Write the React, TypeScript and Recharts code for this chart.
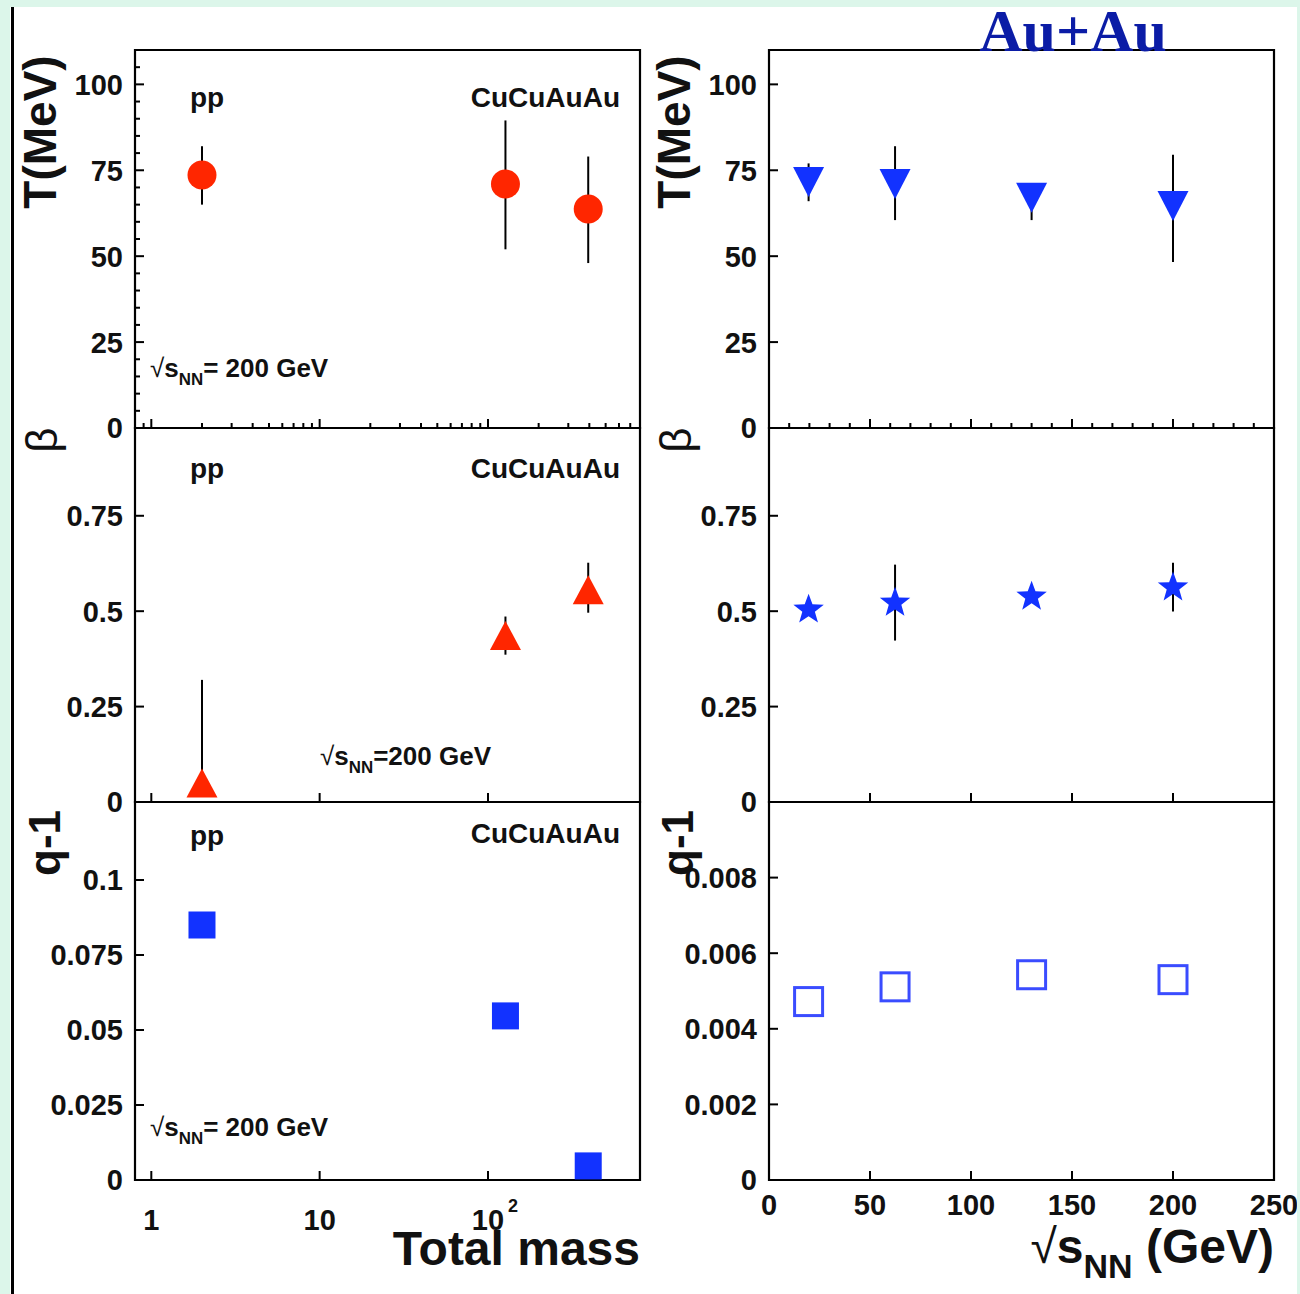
import React from 'react';
import { ScatterChart, Scatter, XAxis, YAxis, ErrorBar, ReferenceArea } from 'recharts';

// ---------- data ----------
const systems = ['pp', 'CuCu', 'AuAu'];
const totalMass = [2, 127, 394];
const tempByMass = [73.6, 71.0, 63.7];
const tempByMassLow = [65.0, 52.0, 48.0];
const tempByMassHigh = [82.0, 89.5, 79.0];
const betaByMass = [0.05, 0.436, 0.556];
const betaByMassLow = [0.05, 0.386, 0.496];
const betaByMassHigh = [0.32, 0.486, 0.627];
const qByMass = [0.085, 0.0547, 0.0047];

const energies = [19.6, 62.4, 130, 200];
const tempByEnergy = [71.6, 71.0, 67.0, 64.6];
const tempByEnergyLow = [66.0, 60.5, 60.5, 48.3];
const tempByEnergyHigh = [77.0, 82.0, 71.3, 79.5];
const betaByEnergy = [0.504, 0.522, 0.538, 0.562];
const betaByEnergyLow = [0.492, 0.423, 0.522, 0.499];
const betaByEnergyHigh = [0.516, 0.622, 0.556, 0.627];
const qByEnergy = [0.00472, 0.00511, 0.00543, 0.0053];

// ---------- ticks ----------
const massMajorTicks = [1, 10, 100];
const massMajorLabels = ['1', '10', '10|2'];
const massMinorTicks = [0.9, 2, 3, 4, 5, 6, 7, 8, 9, 20, 30, 40, 50, 60, 70, 80, 90, 200, 300, 400, 500, 600, 700];
const energyMajorTicks = [0, 50, 100, 150, 200, 250];
const energyMajorLabels = ['0', '50', '100', '150', '200', '250'];
const energyMinorTicks = [10, 20, 30, 40, 60, 70, 80, 90, 110, 120, 130, 140, 160, 170, 180, 190, 210, 220, 230, 240];
const tempMajorTicks = [0, 25, 50, 75, 100];
const tempMajorLabels = ['0', '25', '50', '75', '100'];
const tempMinorTicks = [5, 10, 15, 20, 30, 35, 40, 45, 55, 60, 65, 70, 80, 85, 90, 95, 105];
const betaMajorTicks = [0, 0.25, 0.5, 0.75];
const betaMajorLabels = ['0', '0.25', '0.5', '0.75'];
const qMassMajorTicks = [0, 0.025, 0.05, 0.075, 0.1];
const qMassMajorLabels = ['0', '0.025', '0.05', '0.075', '0.1'];
const qEnergyMajorTicks = [0, 0.002, 0.004, 0.006, 0.008];
const qEnergyMajorLabels = ['0', '0.002', '0.004', '0.006', '0.008'];

const massDomain = [0.8, 800];
const energyDomain = [0, 250];
const tempDomain = [0, 110];
const betaDomain = [0, 0.98];
const qMassDomain = [0, 0.126];
const qEnergyDomain = [0, 0.01];

// ---------- styles ----------
const RED = '#ff2600';
const BLUE = '#1232ff';
const OPEN_BLUE = '#3a4cff';
const FONT = "'Liberation Sans', Arial, Helvetica, sans-serif";

const rows = (xs: number[], ys: number[], lows?: number[], highs?: number[]) =>
  xs.map((x, i) => ({
    x,
    y: ys[i],
    err: lows && highs ? [ys[i] - lows[i], highs[i] - ys[i]] : [0, 0],
  }));

const near = (a: number, b: number) => Math.abs(a - b) < 1e-9;

function Marker({ kind, cx, cy }: { kind: string; cx: number; cy: number }) {
  if (cx == null || cy == null) return null;
  switch (kind) {
    case 'circle':
      return <circle cx={cx} cy={cy} r={14.5} fill={RED} />;
    case 'triUp': {
      const w = 31, h = 29;
      return <path d={`M${cx - w / 2},${cy + h / 2} L${cx + w / 2},${cy + h / 2} L${cx},${cy - h / 2} Z`} fill={RED} />;
    }
    case 'triDown': {
      const w = 31, h = 30;
      return <path d={`M${cx - w / 2},${cy - h / 2} L${cx + w / 2},${cy - h / 2} L${cx},${cy + h / 2} Z`} fill={BLUE} />;
    }
    case 'star': {
      const R = 16, r = 6.6;
      let d = '';
      for (let i = 0; i < 10; i++) {
        const ang = -Math.PI / 2 + (i * Math.PI) / 5;
        const rad = i % 2 === 0 ? R : r;
        d += `${i === 0 ? 'M' : 'L'}${cx + rad * Math.cos(ang)},${cy + rad * Math.sin(ang)} `;
      }
      return <path d={d + 'Z'} fill={BLUE} />;
    }
    case 'square':
      return <rect x={cx - 13.5} y={cy - 13.5} width={27} height={27} fill={BLUE} />;
    case 'openSquare':
      return <rect x={cx - 14} y={cy - 14} width={28} height={28} fill="none" stroke={OPEN_BLUE} strokeWidth={3} />;
    default:
      return null;
  }
}

const ML = 125;
const MT = 12;
const MR = 26;

type PanelProps = {
  left: number;
  top: number;
  plotW: number;
  plotH: number;
  xAxisH: number;
  data: any[];
  kind: string;
  withErr: boolean;
  xScale: 'log' | 'linear';
  xDomain: number[];
  xMajor: number[];
  xMinor: number[];
  xLabels: string[] | null;
  xLabelDy: number;
  yDomain: number[];
  yMajor: number[];
  yMinor: number[];
  yLabels: string[];
};

function Panel(p: PanelProps) {
  const width = ML + p.plotW + MR;
  const height = MT + p.plotH + p.xAxisH;

  const xTick = (props: any) => {
    const { x, y, payload } = props;
    const v = payload.value;
    const idx = p.xMajor.findIndex((m) => near(m, v));
    const isMajor = idx >= 0;
    const len = isMajor ? 9 : 5;
    let label: React.ReactNode = null;
    if (isMajor && p.xLabels) {
      const t = p.xLabels[idx];
      if (t.includes('|')) {
        const [base, sup] = t.split('|');
        label = (
          <g>
            <text x={x} y={y + p.xLabelDy} textAnchor="middle" fontFamily={FONT} fontWeight="bold" fontSize={29} fill="#111">{base}</text>
            <text x={x + 25} y={y + p.xLabelDy - 18} textAnchor="middle" fontFamily={FONT} fontWeight="bold" fontSize={18} fill="#111">{sup}</text>
          </g>
        );
      } else {
        label = (
          <text x={x} y={y + p.xLabelDy} textAnchor="middle" fontFamily={FONT} fontWeight="bold" fontSize={29} fill="#111">{t}</text>
        );
      }
    }
    return (
      <g>
        <line x1={x} x2={x} y1={y} y2={y - len} stroke="#000" strokeWidth={2} />
        {label}
      </g>
    );
  };

  const yTick = (props: any) => {
    const { x, y, payload } = props;
    const v = payload.value;
    const idx = p.yMajor.findIndex((m) => near(m, v));
    const isMajor = idx >= 0;
    const len = isMajor ? 9 : 5;
    return (
      <g>
        <line x1={x} x2={x + len} y1={y} y2={y} stroke="#000" strokeWidth={2} />
        {isMajor && (
          <text x={x - 12} y={y} dy="0.36em" textAnchor="end" fontFamily={FONT} fontWeight="bold" fontSize={29} fill="#111">
            {p.yLabels[idx]}
          </text>
        )}
      </g>
    );
  };

  return (
    <div style={{ position: 'absolute', left: p.left - ML, top: p.top - MT, width, height }}>
      <ScatterChart width={width} height={height} margin={{ top: MT, right: MR, bottom: 0, left: 0 }}>
        <XAxis
          dataKey="x"
          type="number"
          scale={p.xScale}
          domain={p.xDomain}
          allowDataOverflow
          ticks={[...p.xMajor, ...p.xMinor].sort((a, b) => a - b)}
          interval={0}
          tickSize={0}
          tickMargin={0}
          axisLine={false}
          tickLine={false}
          tick={xTick}
          height={p.xAxisH}
        />
        <YAxis
          dataKey="y"
          type="number"
          domain={p.yDomain}
          allowDataOverflow
          ticks={[...p.yMajor, ...p.yMinor].sort((a, b) => a - b)}
          interval={0}
          tickSize={0}
          tickMargin={0}
          axisLine={false}
          tickLine={false}
          tick={yTick}
          width={ML}
        />
        <ReferenceArea
          x1={p.xDomain[0]}
          x2={p.xDomain[1]}
          y1={p.yDomain[0]}
          y2={p.yDomain[1]}
          fill="none"
          fillOpacity={0}
          stroke="#000"
          strokeWidth={2.2}
          ifOverflow="visible"
        />
        <Scatter
          data={p.data}
          isAnimationActive={false}
          shape={(sp: any) => <Marker kind={p.kind} cx={sp.cx} cy={sp.cy} />}
        >
          {p.withErr && (
            <ErrorBar dataKey="err" direction="y" width={0} stroke="#000" strokeWidth={2} isAnimationActive={false} />
          )}
        </Scatter>
      </ScatterChart>
    </div>
  );
}

const COL_L = [135, 769];
const PLOT_W = 505;
const ROW_T = [50, 428, 802];
const ROW_H = [378, 374, 378];

function SqrtS({ x, y, size, sub, rest, anchor = 'start', bold = true }: any) {
  return (
    <text x={x} y={y} textAnchor={anchor} fontFamily={FONT} fontWeight={bold ? 'bold' : 'normal'} fontSize={size} fill="#111">
      <tspan fontWeight="normal">√</tspan>s
      <tspan dy={size * 0.3} fontSize={size * 0.65}>{sub}</tspan>
      <tspan dy={-size * 0.3}>{rest}</tspan>
    </text>
  );
}

export default function App() {
  const tMass = rows(totalMass, tempByMass, tempByMassLow, tempByMassHigh);
  const bMass = rows(totalMass, betaByMass, betaByMassLow, betaByMassHigh);
  const qMass = rows(totalMass, qByMass);
  const tEn = rows(energies, tempByEnergy, tempByEnergyLow, tempByEnergyHigh);
  const bEn = rows(energies, betaByEnergy, betaByEnergyLow, betaByEnergyHigh);
  const qEn = rows(energies, qByEnergy);

  const common = { plotW: PLOT_W };

  return (
    <div style={{ position: 'absolute', left: 0, top: 0, width: 1300, height: 1294, background: '#fff', overflow: 'hidden' }}>
      {/* left column */}
      <Panel {...common} left={COL_L[0]} top={ROW_T[0]} plotH={ROW_H[0]} xAxisH={24} data={tMass} kind="circle" withErr
        xScale="log" xDomain={massDomain} xMajor={massMajorTicks} xMinor={massMinorTicks} xLabels={null} xLabelDy={0}
        yDomain={tempDomain} yMajor={tempMajorTicks} yMinor={tempMinorTicks} yLabels={tempMajorLabels} />
      <Panel {...common} left={COL_L[0]} top={ROW_T[1]} plotH={ROW_H[1]} xAxisH={24} data={bMass} kind="triUp" withErr
        xScale="log" xDomain={massDomain} xMajor={massMajorTicks} xMinor={[]} xLabels={null} xLabelDy={0}
        yDomain={betaDomain} yMajor={betaMajorTicks} yMinor={[]} yLabels={betaMajorLabels} />
      <Panel {...common} left={COL_L[0]} top={ROW_T[2]} plotH={ROW_H[2]} xAxisH={70} data={qMass} kind="square" withErr={false}
        xScale="log" xDomain={massDomain} xMajor={massMajorTicks} xMinor={[]} xLabels={massMajorLabels} xLabelDy={50}
        yDomain={qMassDomain} yMajor={qMassMajorTicks} yMinor={[]} yLabels={qMassMajorLabels} />

      {/* right column */}
      <Panel {...common} left={COL_L[1]} top={ROW_T[0]} plotH={ROW_H[0]} xAxisH={24} data={tEn} kind="triDown" withErr
        xScale="linear" xDomain={energyDomain} xMajor={energyMajorTicks} xMinor={energyMinorTicks} xLabels={null} xLabelDy={0}
        yDomain={tempDomain} yMajor={tempMajorTicks} yMinor={[]} yLabels={tempMajorLabels} />
      <Panel {...common} left={COL_L[1]} top={ROW_T[1]} plotH={ROW_H[1]} xAxisH={24} data={bEn} kind="star" withErr
        xScale="linear" xDomain={energyDomain} xMajor={energyMajorTicks} xMinor={[]} xLabels={null} xLabelDy={0}
        yDomain={betaDomain} yMajor={betaMajorTicks} yMinor={[]} yLabels={betaMajorLabels} />
      <Panel {...common} left={COL_L[1]} top={ROW_T[2]} plotH={ROW_H[2]} xAxisH={70} data={qEn} kind="openSquare" withErr={false}
        xScale="linear" xDomain={energyDomain} xMajor={energyMajorTicks} xMinor={[]} xLabels={energyMajorLabels} xLabelDy={35}
        yDomain={qEnergyDomain} yMajor={qEnergyMajorTicks} yMinor={[]} yLabels={qEnergyMajorLabels} />

      {/* annotations and titles */}
      <svg width={1300} height={1294} style={{ position: 'absolute', left: 0, top: 0, pointerEvents: 'none' }}>
        <text x={1073} y={51} textAnchor="middle" fontFamily="'Liberation Serif', 'Times New Roman', serif" fontWeight="bold" fontSize={60} fill="#0b1ca6">Au+Au</text>

        {[107, 478, 845].map((yy, i) => (
          <text key={'pp' + i} x={207} y={yy} textAnchor="middle" fontFamily={FONT} fontWeight="bold" fontSize={28} fill="#111">{systems[0]}</text>
        ))}
        {[107, 478, 843].map((yy, i) => (
          <text key={'cu' + i} x={620} y={yy} textAnchor="end" fontFamily={FONT} fontWeight="bold" fontSize={28} fill="#111">{systems[1] + systems[2]}</text>
        ))}

        <SqrtS x={150} y={377} size={26} sub="NN" rest="= 200 GeV" />
        <SqrtS x={320} y={765} size={26} sub="NN" rest="=200 GeV" />
        <SqrtS x={150} y={1136} size={26} sub="NN" rest="= 200 GeV" />

        <text transform="translate(56,132) rotate(-90)" textAnchor="middle" fontFamily={FONT} fontWeight="bold" fontSize={46} fill="#111">T(MeV)</text>
        <text transform="translate(690,132) rotate(-90)" textAnchor="middle" fontFamily={FONT} fontWeight="bold" fontSize={46} fill="#111">T(MeV)</text>
        <text transform="translate(57,440) rotate(-90)" textAnchor="middle" fontFamily={FONT} fontWeight="normal" fontSize={44} fill="#111">β</text>
        <text transform="translate(691,440) rotate(-90)" textAnchor="middle" fontFamily={FONT} fontWeight="normal" fontSize={44} fill="#111">β</text>
        <text transform="translate(60,843) rotate(-90)" textAnchor="middle" fontFamily={FONT} fontWeight="bold" fontSize={44} fill="#111">q-1</text>
        <text transform="translate(693,843) rotate(-90)" textAnchor="middle" fontFamily={FONT} fontWeight="bold" fontSize={44} fill="#111">q-1</text>

        <text x={640} y={1265} textAnchor="end" fontFamily={FONT} fontWeight="bold" fontSize={48} fill="#111">Total mass</text>
        <text x={1274} y={1263} textAnchor="end" fontFamily={FONT} fontWeight="bold" fontSize={48} fill="#111">
          <tspan fontWeight="normal">√</tspan>s
          <tspan dy={15} fontSize={34}>NN</tspan>
          <tspan dy={-15}> (GeV)</tspan>
        </text>
      </svg>

      {/* slide frame */}
      <div style={{ position: 'absolute', left: 0, top: 0, width: 1300, height: 7, background: '#dcf6ea' }} />
      <div style={{ position: 'absolute', left: 0, top: 0, width: 10, height: 1294, background: '#dcf6ea' }} />
      <div style={{ position: 'absolute', left: 11, top: 7, width: 3, height: 1287, background: '#000' }} />
      <div style={{ position: 'absolute', left: 1297, top: 0, width: 3, height: 1294, background: '#dcf6ea' }} />
    </div>
  );
}
